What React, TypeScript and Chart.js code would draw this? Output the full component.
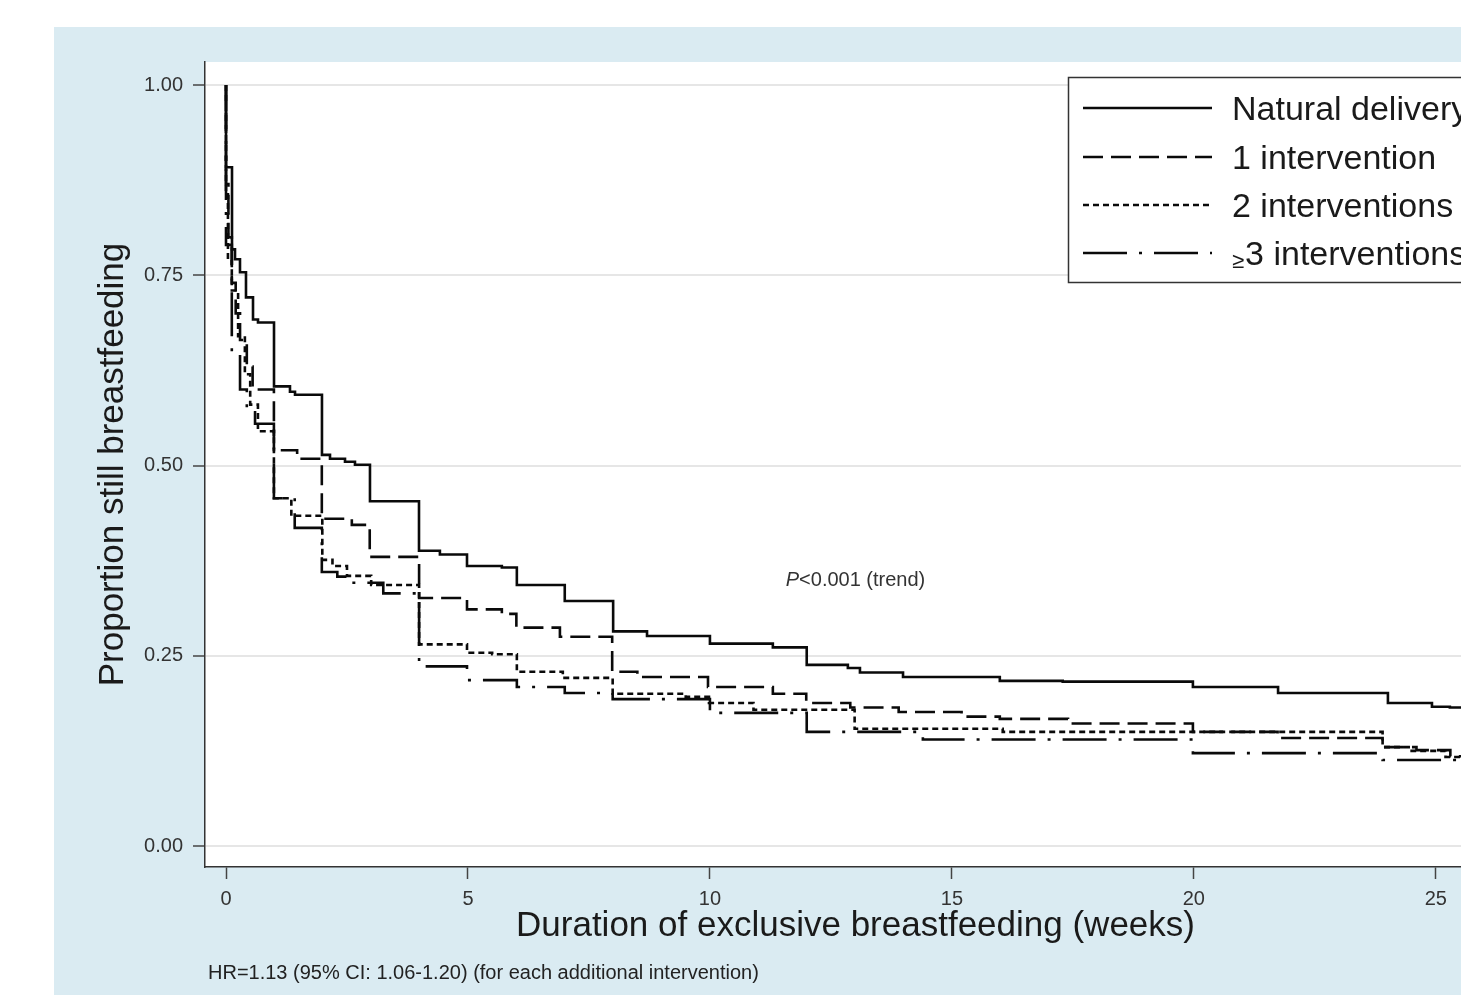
import React, { useEffect, useRef } from "react";
import { Chart, registerables } from "chart.js";
Chart.register(...registerables);

// ---- data (weeks, proportion still breastfeeding) ----
const xTickValues = [0, 5, 10, 15, 20, 25];
const yTickValues = [0, 0.25, 0.5, 0.75, 1.0];
const seriesNames = ["Natural delivery", "1 intervention", "2 interventions", "\u22653 interventions"];

const naturalWeeks = [0, 0, 0.124, 0.186, 0.289, 0.413, 0.558, 0.661, 0.992, 1.322, 1.426, 1.983, 2.149, 2.459, 2.665, 2.975, 3.988, 4.42, 4.98, 5.7, 6.01, 7.0, 8.0, 8.7, 10.0, 11.3, 12.0, 12.85, 13.1, 13.99, 15.99, 17.29, 19.98, 21.74, 24.01, 24.92, 25.29, 26];
const naturalSurv = [1, 0.892, 0.784, 0.771, 0.754, 0.721, 0.692, 0.688, 0.604, 0.597, 0.593, 0.514, 0.509, 0.505, 0.501, 0.453, 0.388, 0.383, 0.368, 0.366, 0.343, 0.322, 0.282, 0.276, 0.266, 0.261, 0.238, 0.234, 0.228, 0.222, 0.217, 0.216, 0.209, 0.201, 0.188, 0.183, 0.182, 0.182];

const oneWeeks = [0, 0, 0.05, 0.12, 0.2, 0.29, 0.43, 0.55, 0.99, 1.47, 1.98, 2.6, 2.97, 3.99, 4.98, 5.7, 6.0, 6.9, 7.98, 8.5, 9.96, 11.3, 11.99, 12.9, 13.9, 15.2, 15.99, 17.4, 19.98, 21.73, 23.9, 24.6, 25.3, 26];
const oneSurv = [1, 0.87, 0.8, 0.74, 0.7, 0.665, 0.63, 0.6, 0.52, 0.509, 0.43, 0.422, 0.38, 0.326, 0.311, 0.305, 0.287, 0.275, 0.229, 0.222, 0.209, 0.2, 0.188, 0.182, 0.176, 0.17, 0.167, 0.161, 0.15, 0.142, 0.13, 0.126, 0.118, 0.116];

const twoWeeks = [0, 0, 0.04, 0.12, 0.25, 0.39, 0.5, 0.66, 0.99, 1.35, 1.99, 2.2, 2.5, 3.0, 3.99, 4.98, 5.5, 6.01, 6.96, 7.99, 9.5, 9.98, 10.9, 12.99, 16.05, 23.9, 24.5, 25.2, 26];
const twoSurv = [1, 0.86, 0.77, 0.73, 0.67, 0.62, 0.58, 0.545, 0.457, 0.434, 0.376, 0.368, 0.355, 0.343, 0.265, 0.254, 0.252, 0.229, 0.221, 0.2, 0.196, 0.188, 0.179, 0.154, 0.15, 0.13, 0.125, 0.117, 0.115];

const threeWeeks = [0, 0, 0.12, 0.29, 0.43, 0.6, 0.99, 1.42, 1.98, 2.3, 2.55, 3.25, 3.99, 4.98, 6.01, 7.0, 7.99, 10.0, 12.0, 14.4, 19.98, 23.9, 26];
const threeSurv = [1, 0.79, 0.65, 0.6, 0.57, 0.555, 0.457, 0.418, 0.36, 0.354, 0.346, 0.332, 0.236, 0.218, 0.209, 0.201, 0.193, 0.175, 0.15, 0.14, 0.122, 0.113, 0.113];

const pText = "<0.001 (trend)";
const noteText = "HR=1.13 (95% CI: 1.06-1.20) (for each additional intervention)";
const xTitle = "Duration of exclusive breastfeeding (weeks)";
const yTitle = "Proportion still breastfeeding";

// ---- styling ----
const FONT = "'Liberation Sans', Arial, Helvetica, sans-serif";
const BG = "rgb(218,235,242)";
const LINE = "#0a0a0a";
const dashes: number[][] = [[], [20, 8], [6, 4], [44, 12, 3, 12]];

function toPoints(w: number[], s: number[]) {
  return w.map((x, i) => ({ x, y: s[i] }));
}

const backgroundPlugin = {
  id: "stataBackground",
  beforeDraw(chart: any) {
    const { ctx, chartArea } = chart;
    ctx.save();
    ctx.fillStyle = "#ffffff";
    ctx.fillRect(0, 0, chart.width, chart.height);
    ctx.fillStyle = BG;
    ctx.fillRect(54, 27, chart.width - 54, chart.height - 27);
    ctx.fillStyle = "#ffffff";
    ctx.fillRect(chartArea.left, chartArea.top, chartArea.right - chartArea.left, chartArea.bottom - chartArea.top);
    ctx.restore();
  },
};

const overlayPlugin = {
  id: "stataOverlay",
  afterDraw(chart: any) {
    const { ctx, chartArea } = chart;
    ctx.save();
    // P-value text
    const cx = (chartArea.left + chartArea.right) / 2;
    ctx.font = `italic 20px ${FONT}`;
    const wP = ctx.measureText("P").width;
    ctx.font = `20px ${FONT}`;
    const wRest = ctx.measureText(pText).width;
    const startX = cx - (wP + wRest) / 2;
    ctx.fillStyle = "#333333";
    ctx.textBaseline = "middle";
    ctx.textAlign = "left";
    ctx.font = `italic 20px ${FONT}`;
    ctx.fillText("P", startX, 580);
    ctx.font = `20px ${FONT}`;
    ctx.fillText(pText, startX + wP, 580);

    // note
    ctx.fillStyle = "#222222";
    ctx.fillText(noteText, 208, 973);

    // legend
    const lx = 1068, ly = 77, lw = 430, lh = 205;
    ctx.fillStyle = "#ffffff";
    ctx.fillRect(lx, ly, lw, lh);
    ctx.strokeStyle = "#333333";
    ctx.lineWidth = 1.5;
    ctx.strokeRect(lx + 0.5, ly + 0.5, lw, lh);
    const rows = [108, 157, 205, 253];
    rows.forEach((ry, i) => {
      ctx.setLineDash(dashes[i]);
      ctx.strokeStyle = LINE;
      ctx.lineWidth = 2.6;
      ctx.beginPath();
      ctx.moveTo(1083, ry);
      ctx.lineTo(1212, ry);
      ctx.stroke();
      ctx.setLineDash([]);
      ctx.fillStyle = "#1a1a1a";
      const name = seriesNames[i];
      ctx.textBaseline = "alphabetic";
      if (name.startsWith("\u2265")) {
        ctx.font = `22px ${FONT}`;
        ctx.fillText("\u2265", 1232, ry + 15);
        const wg = ctx.measureText("\u2265").width;
        ctx.font = `34px ${FONT}`;
        ctx.fillText(name.slice(1), 1232 + wg + 1, ry + 12);
      } else {
        ctx.font = `34px ${FONT}`;
        ctx.fillText(name, 1232, ry + 12);
      }
    });
    ctx.restore();
  },
};

export default function App() {
  const ref = useRef<HTMLCanvasElement>(null);
  useEffect(() => {
    const canvas = ref.current;
    if (!canvas) return;
    const chart = new Chart(canvas, {
      type: "line",
      data: {
        datasets: [
          { label: seriesNames[0], data: toPoints(naturalWeeks, naturalSurv), borderDash: dashes[0] },
          { label: seriesNames[1], data: toPoints(oneWeeks, oneSurv), borderDash: dashes[1] },
          { label: seriesNames[2], data: toPoints(twoWeeks, twoSurv), borderDash: dashes[2] },
          { label: seriesNames[3], data: toPoints(threeWeeks, threeSurv), borderDash: dashes[3] },
        ].map((d) => ({
          ...d,
          stepped: "before" as const,
          borderColor: LINE,
          borderWidth: 2.6,
          pointRadius: 0,
          fill: false,
          tension: 0,
          borderJoinStyle: "miter" as const,
        })),
      },
      options: {
        responsive: false,
        animation: false,
        devicePixelRatio: 1,
        layout: { padding: { top: 62, left: 0, right: 0, bottom: 0 }, autoPadding: false },
        plugins: { legend: { display: false }, tooltip: { enabled: false } },
        events: [],
        scales: {
          x: {
            type: "linear",
            min: -0.434,
            max: 26.45,
            afterFit: (s: any) => { s.height = 128; },
            afterBuildTicks: (s: any) => { s.ticks = xTickValues.map((v) => ({ value: v })); },
            grid: {
              display: true,
              drawOnChartArea: false,
              drawTicks: true,
              tickLength: 12,
              tickColor: "#444444",
              tickWidth: 1.5,
            },
            border: { display: true, color: "#333333", width: 1.5 },
            ticks: {
              padding: 8,
              color: "#333333",
              font: { family: FONT, size: 20 },
              maxRotation: 0,
              callback: (v: any) => String(v),
            },
            title: {
              display: true,
              text: xTitle,
              color: "#1a1a1a",
              font: { family: FONT, size: 35, lineHeight: 1 },
              padding: { top: 0, bottom: 51 },
            },
          },
          y: {
            type: "linear",
            min: -0.0276,
            max: 1.0303,
            afterFit: (s: any) => { s.width = 205; },
            afterBuildTicks: (s: any) => { s.ticks = yTickValues.map((v) => ({ value: v })); },
            grid: {
              display: true,
              drawOnChartArea: true,
              color: "#e6e6e6",
              lineWidth: 2,
              drawTicks: true,
              tickLength: 12,
              tickColor: "#444444",
              tickWidth: 1.5,
            },
            border: { display: true, color: "#333333", width: 1.5 },
            ticks: {
              padding: 10,
              color: "#333333",
              font: { family: FONT, size: 20 },
              callback: (v: any) => Number(v).toFixed(2),
            },
            title: {
              display: true,
              text: yTitle,
              color: "#1a1a1a",
              font: { family: FONT, size: 35, lineHeight: 1 },
              padding: { top: 96, bottom: 0 },
            },
          },
        },
      },
      plugins: [backgroundPlugin, overlayPlugin],
    } as any);
    return () => chart.destroy();
  }, []);

  return (
    <div style={{ position: "fixed", left: 0, top: 0, width: 1461, height: 995, overflow: "hidden", background: "#ffffff" }}>
      <canvas ref={ref} width={1506} height={995} style={{ display: "block", width: 1506, height: 995 }} />
    </div>
  );
}
